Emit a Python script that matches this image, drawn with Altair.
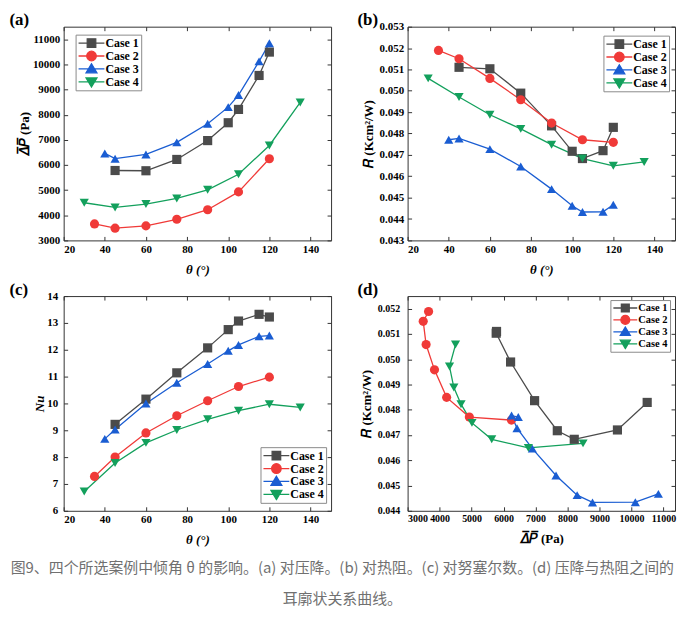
import altair as alt
import pandas as pd

SERIF = "Liberation Serif"
TITLE_FONT = "Liberation Serif, DejaVu Serif, serif"

cases = ["Case 1", "Case 2", "Case 3", "Case 4"]
colors = ["#4b4b4b", "#f03a38", "#1a5dd2", "#13a05c"]
marker_shapes = ["square", "circle", "triangle-up", "triangle-down"]
legend_shapes = [
    "M-1,0H1M-0.33,-0.33H0.33V0.33H-0.33Z",
    "M-1,0H1M-0.37,0A0.37,0.37,0,1,0,0.37,0A0.37,0.37,0,1,0,-0.37,0Z",
    "M-1,0H1M0,-0.4L0.42,0.3H-0.42Z",
    "M-1,0H1M0,0.4L0.42,-0.3H-0.42Z",
]

# inclination angle (deg)
theta_1 = [45, 60, 75, 90, 100, 105, 115, 120]
theta_2 = [35, 45, 60, 75, 90, 105, 120]
theta_3 = [40, 45, 60, 75, 90, 100, 105, 115, 120]
theta_4 = [30, 45, 60, 75, 90, 105, 120, 135]

# mean pressure drop (Pa)
dp_1 = [5780, 5770, 6220, 6970, 7680, 8210, 9560, 10490]
dp_2 = [3655, 3488, 3578, 3840, 4220, 4930, 6246]
dp_3 = [6460, 6250, 6420, 6900, 7640, 8300, 8780, 10120, 10840]
dp_4 = [4498, 4310, 4446, 4670, 5012, 5630, 6775, 8485]

# thermal resistance (K cm2 / W)
R_1 = [0.05110, 0.05103, 0.04989, 0.04836, 0.04717, 0.04683, 0.04720, 0.04829]
R_2 = [0.05189, 0.05150, 0.05058, 0.04958, 0.04849, 0.04771, 0.04759]
R_3 = [0.04771, 0.04777, 0.04727, 0.04646, 0.04540, 0.04462, 0.04433, 0.04434, 0.04467]
R_4 = [0.05058, 0.04971, 0.04888, 0.04822, 0.04748, 0.04683, 0.04649, 0.04667]

# Nusselt number
nu_1 = [9.22, 10.16, 11.14, 12.07, 12.75, 13.07, 13.32, 13.22]
nu_2 = [7.28, 8.00, 8.90, 9.54, 10.10, 10.63, 10.98]
nu_3 = [8.68, 9.03, 10.00, 10.77, 11.47, 11.96, 12.18, 12.50, 12.53]
nu_4 = [6.72, 7.78, 8.53, 9.01, 9.41, 9.73, 9.97, 9.85]

x_ticks_theta = [20, 40, 60, 80, 100, 120, 140]
y_ticks_dp = [3000, 4000, 5000, 6000, 7000, 8000, 9000, 10000, 11000]
y_ticks_R = [0.043, 0.044, 0.045, 0.046, 0.047, 0.048, 0.049, 0.050, 0.051, 0.052, 0.053]
y_ticks_nu = [6, 7, 8, 9, 10, 11, 12, 13, 14]
x_ticks_dp = [3000, 4000, 5000, 6000, 7000, 8000, 9000, 10000, 11000]
y_ticks_R_d = [0.044, 0.045, 0.046, 0.047, 0.048, 0.049, 0.050, 0.051, 0.052]

caption = [
    "图9、四个所选案例中倾角 θ 的影响。(a) 对压降。(b) 对热阻。(c) 对努塞尔数。(d) 压降与热阻之间的",
    "耳廓状关系曲线。",
]

rows = []
for case, th, dp, rr, nu in zip(cases, [theta_1, theta_2, theta_3, theta_4],
                                [dp_1, dp_2, dp_3, dp_4], [R_1, R_2, R_3, R_4],
                                [nu_1, nu_2, nu_3, nu_4]):
    for i, (t, p, r, n) in enumerate(zip(th, dp, rr, nu)):
        rows.append({"case": case, "theta": t, "dp": p, "R": r, "Nu": n, "order": i})
df = pd.DataFrame(rows)

W, H = 269, 215

THETA_T = ("θ (°)", "italic")
DP_T = ("\U0001D6E5\u0305\U0001D443\u0305 (Pa)", "normal")
R_T = ("\U0001D445 (Kcm²/W)", "normal")
NU_T = ("Nu", "italic")


def panel(xf, yf, xdom, xticks, xfmt, ydom, yticks, yfmt, xtitle, ytitle, tag,
          leg_x, leg_y, h=H, lab_size=11, ytp=2, xtp=9, ylp=4, xlp=3,
          leg_font=12, leg_sym=676, leg_clip=13, tag_dx=-55):
    xs = alt.Scale(domain=xdom, nice=False, zero=False)
    ys = alt.Scale(domain=ydom, nice=False, zero=False)
    base = alt.Chart(df)
    main_x = alt.Axis(values=xticks, format=xfmt, title=xtitle[0], titleFontStyle=xtitle[1],
                      ticks=False, domain=False,
                      labelPadding=xlp, titlePadding=xtp, labelFontSize=lab_size)
    main_y = alt.Axis(values=yticks, format=yfmt, title=ytitle[0], titleFontStyle=ytitle[1],
                      ticks=False, domain=False,
                      labelPadding=ylp, titlePadding=ytp, labelFontSize=lab_size)

    def tick_axis(orient, vals, **kw):
        opts = dict(orient=orient, values=vals, labels=False, domain=False,
                    ticks=True, tickSize=4, offset=-4, tickColor="#333", tickWidth=1,
                    minExtent=0, maxExtent=0)
        if "title" not in kw:
            opts["title"] = None
        opts.update(kw)
        return alt.Axis(**opts)

    top_axis = tick_axis(
        "top", xticks, title=tag, titleX=tag_dx, titleY=-2, titleAngle=0,
        titleAlign="left", titleBaseline="bottom", titleFont=SERIF, titleFontSize=17,
        titleFontWeight="bold", titleFontStyle="normal", titleColor="black",
    )

    color_scale = alt.Scale(domain=cases, range=colors)
    line = base.mark_line(strokeWidth=1.3).encode(
        x=alt.X(f"{xf}:Q", scale=xs, axis=main_x),
        y=alt.Y(f"{yf}:Q", scale=ys, axis=main_y),
        color=alt.Color("case:N", scale=color_scale, legend=None),
        order="order:Q",
    )
    pts = base.mark_point(filled=True, opacity=1, size=85).encode(
        x=alt.X(f"{xf}:Q", scale=xs, axis=top_axis),
        y=alt.Y(f"{yf}:Q", scale=ys, axis=tick_axis("right", yticks)),
        color=alt.Color("case:N", scale=color_scale, legend=None),
        shape=alt.Shape("case:N", scale=alt.Scale(domain=cases, range=marker_shapes), legend=None),
    )
    leg = alt.Legend(title=None, orient="none", legendX=leg_x, legendY=leg_y,
                     labelFont=SERIF, labelFontWeight="bold", labelFontSize=leg_font,
                     labelColor="black", symbolSize=leg_sym, symbolStrokeWidth=1.3,
                     symbolOpacity=1, clipHeight=leg_clip, labelOffset=0, rowPadding=0,
                     padding=2, strokeColor="#8a8a8a", fillColor="white", cornerRadius=0)
    ghost = base.transform_filter("false").mark_point(filled=True, opacity=1).encode(
        x=alt.X(f"{xf}:Q", scale=xs, axis=tick_axis("bottom", xticks)),
        y=alt.Y(f"{yf}:Q", scale=ys, axis=tick_axis("left", yticks)),
        fill=alt.Fill("case:N", scale=alt.Scale(domain=cases, range=colors), legend=leg),
        stroke=alt.Stroke("case:N", scale=alt.Scale(domain=cases, range=colors), legend=leg),
        shape=alt.Shape("case:N", scale=alt.Scale(domain=cases, range=legend_shapes), legend=leg),
    )
    return (
        alt.layer(line, pts, ghost)
        .resolve_scale(shape="independent", fill="independent", stroke="independent")
        .resolve_axis(x="independent", y="independent")
        .properties(width=W, height=h)
    )


pa = panel("theta", "dp", [20, 150], x_ticks_theta, "d", [3000, 11500], y_ticks_dp, "d",
           THETA_T, DP_T, "(a)", 12, 8, ytp=1)
pb = panel("theta", "R", [20, 150], x_ticks_theta, "d", [0.043, 0.053], y_ticks_R, ".3f",
           THETA_T, R_T, "(b)", 197, 9, ytp=4, tag_dx=-51)
pc = panel("theta", "Nu", [20, 150], x_ticks_theta, "d", [6, 14], y_ticks_nu, "d",
           THETA_T, NU_T, "(c)", 198, 152, h=216, ytp=0, ylp=6)
pd_ = panel("dp", "R", [3000, 11360], x_ticks_dp, "d", [0.044, 0.0525], y_ticks_R_d, ".3f",
            DP_T, R_T, "(d)", 204, 4, h=216, lab_size=10, ytp=4, ylp=8,
            leg_font=10.5, leg_sym=576, leg_clip=12, tag_dx=-51)

row1 = alt.hconcat(pa, pb, spacing=24)
row2 = alt.hconcat(pc, pd_, spacing=24)

chart = (
    alt.vconcat(row1, row2, spacing=2)
    .properties(
        padding={"left": 0, "top": 0, "right": 0, "bottom": 0},
        title=alt.TitleParams(text=caption, orient="bottom", anchor="middle",
                              font="Noto Sans CJK SC", fontSize=15, fontWeight="normal",
                              color="#707070", lineHeight=31, offset=14),
    )
    .configure_view(stroke="#333", strokeWidth=1)
    .configure_axis(labelFont=SERIF, labelFontWeight="bold", labelColor="black",
                    titleFont=TITLE_FONT, titleFontWeight="bold", titleFontSize=13,
                    titleColor="black", grid=False)
)

chart.save("out.html", embed_options={"renderer": "svg", "actions": False})
